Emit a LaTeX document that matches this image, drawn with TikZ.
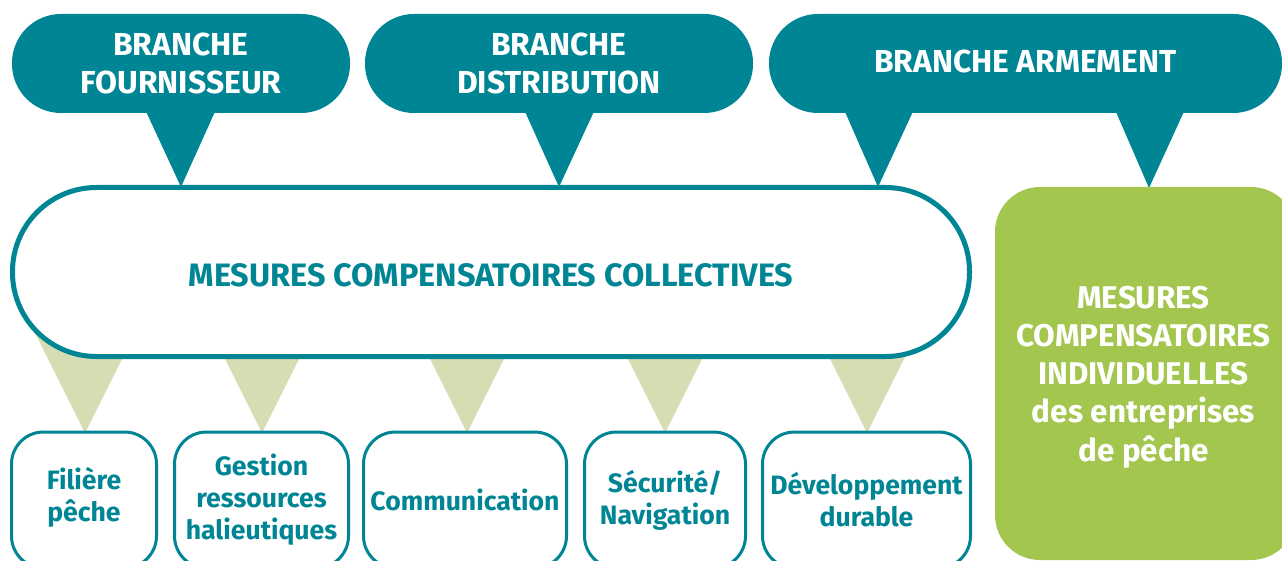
\documentclass[tikz,border=0pt]{standalone}
\usepackage{fontspec}
\setmainfont{Fira Sans}
\definecolor{tealc}{RGB}{0,133,149}
\definecolor{greenc}{RGB}{163,198,78}
\definecolor{paleg}{RGB}{214,221,178}
\begin{document}
\begin{tikzpicture}[x=1pt,y=-1pt,
  bubble/.style={fill=tealc, rounded corners=49pt, text=white, inner sep=0pt,
    font=\bfseries\fontsize{31.8}{38}\selectfont, align=center, minimum height=99pt},
  tailc/.style={fill=tealc},
  pointer/.style={fill=paleg},
  pill/.style={draw=tealc, line width=5pt, fill=white, rounded corners=84pt, inner sep=0pt,
    minimum width=957pt, minimum height=169pt, text=tealc,
    font=\bfseries\fontsize{32.4}{38}\selectfont},
  subbox/.style={draw=tealc, line width=3pt, fill=white, rounded corners=32pt, inner sep=0pt,
    minimum height=136pt, text=tealc, align=center,
    font=\bfseries\fontsize{26.6}{32}\selectfont},
  greenbox/.style={fill=greenc, rounded corners=45pt, inner sep=0pt,
    minimum width=301pt, minimum height=373pt},
  greentext/.style={text=white, align=center, inner sep=0pt,
    font=\bfseries\fontsize{31.4}{38.2}\selectfont}
]
\useasboundingbox (0,0) rectangle (1282,561);

% pale green pointers (behind the pill)
\foreach \cx/\nm in {85/p1,262/p2,467/p3,665/p4,867/p5}{
  \coordinate (\nm) at (\cx,433);
  \fill[pointer] (\cx-51.5,330) -- (\cx+51.5,330) -- (\nm) -- cycle;
}

% teal tails of the bubbles
\coordinate (t1) at (181,187);
\coordinate (t2) at (559,187);
\coordinate (t3) at (878,187);
\coordinate (t4) at (1149,188);
\fill[tailc] (143,105) -- (218,105) -- (t1) -- cycle;
\fill[tailc] (522,105) -- (597,105) -- (t2) -- cycle;
\fill[tailc] (842,105) -- (916,105) -- (t3) -- cycle;
\fill[tailc] (1113,105) -- (1187,105) -- (t4) -- cycle;

% bubbles
\node[bubble, minimum width=338pt] (bf) at (181,63.5) {BRANCHE\\FOURNISSEUR};
\node[bubble, minimum width=388pt] (bd) at (559,63.5) {BRANCHE\\DISTRIBUTION};
\node[bubble, minimum width=513pt, text depth=4pt] (ba) at (1025.5,63.5) {BRANCHE ARMEMENT};

% collective measures pill
\node[pill, text height=28.5pt, text depth=0pt] (mcc) at (491,272) {MESURES COMPENSATOIRES COLLECTIVES};

% bottom boxes
\node[subbox, minimum width=145pt, text depth=11.5pt] (b1) at (84,500) {Filière\\pêche};
\node[subbox, minimum width=174pt] (b2) at (261.5,500) {Gestion\\ressources\\halieutiques};
\node[subbox, minimum width=203pt] (b3) at (465,500) {Communication};
\node[subbox, minimum width=161pt] (b4) at (665,500) {Sécurité/\\Navigation};
\node[subbox, minimum width=208pt] (b5) at (866.5,500) {Développement\\durable};

% individual measures box
\node[greenbox] (mci) at (1145.5,373.5) {};
\node[greentext] (mcit) at (1143.5,377) {MESURES\\COMPENSATOIRES\\INDIVIDUELLES\\des entreprises\\de pêche};
\end{tikzpicture}
\end{document}
